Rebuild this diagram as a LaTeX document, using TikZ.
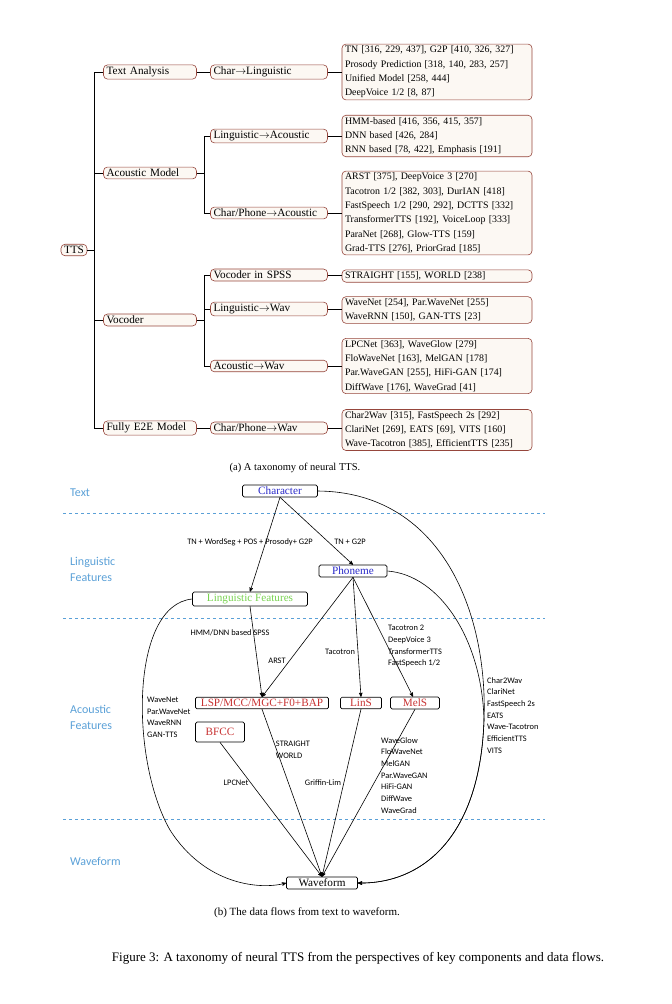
\documentclass[tikz,border=0pt]{standalone}
\usepackage{fontspec}
\setmainfont{Liberation Serif}
\newfontfamily\labfont{Carlito}
\usetikzlibrary{arrows}

\definecolor{leafborder}{RGB}{150,70,60}
\definecolor{leaffill}{RGB}{252,248,243}
\definecolor{layerblue}{RGB}{90,160,215}
\definecolor{charblue}{RGB}{40,40,200}
\definecolor{featgreen}{RGB}{120,210,80}
\definecolor{acred}{RGB}{200,50,50}

\tikzset{
  tree/.style={draw=leafborder,fill=leaffill,rounded corners=4pt,line width=0.6pt,
    inner xsep=3pt,inner ysep=2pt,align=left,font=\fontsize{11.2}{14}\selectfont},
  lvlone/.style={tree,text width=87pt},
  lvltwo/.style={tree,text width=111pt},
  leaf/.style={tree,text width=184pt,font=\fontsize{9.9}{14.3}\selectfont},
  flow/.style={draw,rounded corners=1.5pt,line width=0.7pt,inner sep=2pt,
    font=\fontsize{11.2}{14}\selectfont},
  lab/.style={font=\labfont\fontsize{8.4}{11.7}\selectfont,align=left,inner sep=0pt},
  layer/.style={font=\labfont\fontsize{12}{16}\selectfont,text=layerblue,align=left,anchor=west,inner sep=0pt},
  sep/.style={layerblue,dashed,line width=0.5pt},
  arr/.style={->,>=stealth',line width=0.6pt}
}

\begin{document}
\begin{tikzpicture}[x=1pt,y=-1pt]
  \useasboundingbox (0,0) rectangle (672,1004);

  % taxonomy
  \node[tree] (TTS) at (74,250) {TTS};
  \node[lvlone] (Text Analysis) at (150,72) {Text Analysis};
  \node[lvlone] (Acoustic Model) at (150,173) {Acoustic Model};
  \node[lvlone] (Vocoder) at (150,320) {Vocoder};
  \node[lvlone] (E2E) at (150,428) {Fully E2E Model};

  \node[lvltwo] (Char2Ling) at (269,72) {Char$\rightarrow$Linguistic};
  \node[lvltwo] (Ling2Ac) at (269,136) {Linguistic$\rightarrow$Acoustic};
  \node[lvltwo] (Char2Ac) at (269,213) {Char/Phone$\rightarrow$Acoustic};
  \node[lvltwo] (SPSS) at (269,275) {Vocoder in SPSS};
  \node[lvltwo] (Ling2Wav) at (269,309) {Linguistic$\rightarrow$Wav};
  \node[lvltwo] (Ac2Wav) at (269,366) {Acoustic$\rightarrow$Wav};
  \node[lvltwo] (Char2Wav) at (269,428) {Char/Phone$\rightarrow$Wav};

  \node[leaf] (L1) at (437,72) {TN [316, 229, 437], G2P [410, 326, 327]\\Prosody Prediction [318, 140, 283, 257]\\Unified Model [258, 444]\\DeepVoice 1/2 [8, 87]};
  \node[leaf] (L2) at (437,136) {HMM-based [416, 356, 415, 357]\\DNN based [426, 284]\\RNN based [78, 422], Emphasis [191]};
  \node[leaf] (L3) at (437,213) {ARST [375], DeepVoice 3 [270]\\Tacotron 1/2 [382, 303], DurIAN [418]\\FastSpeech 1/2 [290, 292], DCTTS [332]\\TransformerTTS [192], VoiceLoop [333]\\ParaNet [268], Glow-TTS [159]\\Grad-TTS [276], PriorGrad [185]};
  \node[leaf] (L4) at (437,276) {STRAIGHT [155], WORLD [238]};
  \node[leaf] (L5) at (437,310) {WaveNet [254], Par.WaveNet [255]\\WaveRNN [150], GAN-TTS [23]};
  \node[leaf] (L6) at (437,366) {LPCNet [363], WaveGlow [279]\\FloWaveNet [163], MelGAN [178]\\Par.WaveGAN [255], HiFi-GAN [174]\\DiffWave [176], WaveGrad [41]};
  \node[leaf] (L7) at (437,430) {Char2Wav [315], FastSpeech 2s [292]\\ClariNet [269], EATS [69], VITS [160]\\Wave-Tacotron [385], EfficientTTS [235]};

  \foreach \n in {Text Analysis,Acoustic Model,Vocoder,E2E}
    \draw[line width=0.5pt] (TTS.east) -- ++(7,0) |- (\n.west);
  \draw[line width=0.5pt] (Text Analysis) -- (Char2Ling);
  \draw[line width=0.5pt] (E2E) -- (Char2Wav);
  \foreach \n in {Ling2Ac,Char2Ac}
    \draw[line width=0.5pt] (Acoustic Model.east) -- ++(7,0) |- (\n.west);
  \foreach \n in {SPSS,Ling2Wav,Ac2Wav}
    \draw[line width=0.5pt] (Vocoder.east) -- ++(7,0) |- (\n.west);
  \foreach \a/\b in {Char2Ling/L1,Ling2Ac/L2,Char2Ac/L3,SPSS/L4,Ling2Wav/L5,Ac2Wav/L6,Char2Wav/L7}
    \draw[line width=0.5pt] (\a.east) -- (\a.east -| \b.west);

  \node[font=\fontsize{10.5}{12}\selectfont] (capa) at (295,468) {(a) A taxonomy of neural TTS.};

  % data flow
  \draw[sep] (63,513) -- (545,513);
  \draw[sep] (63,618) -- (545,618);
  \draw[sep] (63,819) -- (545,819);
  \node[layer] (lText) at (70,493) {Text};
  \node[layer] (lLing) at (70,569) {Linguistic\\Features};
  \node[layer] (lAc) at (70,717) {Acoustic\\Features};
  \node[layer] (lWav) at (70,861) {Waveform};

  \node[flow,text=charblue,minimum width=75pt] (Character) at (280,491) {Character};
  \node[flow,text=charblue,minimum width=68pt] (Phoneme) at (353,571) {Phoneme};
  \node[flow,text=featgreen,minimum width=115pt] (LingFeat) at (250,599) {Linguistic Features};
  \node[flow,text=acred,minimum width=133pt] (LSP) at (262,703) {LSP/MCC/MGC+F0+BAP};
  \node[flow,text=acred,minimum width=41pt] (LinS) at (361,703) {LinS};
  \node[flow,text=acred,minimum width=49pt] (MelS) at (415,703) {MelS};
  \node[flow,text=acred,minimum width=49pt,minimum height=20pt] (BFCC) at (220,732) {BFCC};
  \node[flow,minimum width=71pt] (Waveform) at (322,883) {Waveform};

  \draw[arr] (Character.south) -- (LingFeat.north);
  \draw[arr] (Character.south) -- (Phoneme.north);
  \draw[arr] (LingFeat.south) -- (LSP.north);
  \draw[arr] (Phoneme.south) -- (LSP.north);
  \draw[arr] (Phoneme.south) -- (LinS.north);
  \draw[arr] (Phoneme.south) -- ([xshift=-2pt]MelS.north);
  \draw[arr] (LSP.south) -- (Waveform.north);
  \draw[arr] (BFCC.south) -- (Waveform.north);
  \draw[arr] (LinS.south) -- (Waveform.north);
  \draw[arr] (MelS.south) -- (Waveform.north);
  \draw[arr] (Character.east) .. controls (440,492) and (488,610) .. (484,720)
    .. controls (480,840) and (420,884) .. (Waveform.east);
  \draw[arr] (Phoneme.east) .. controls (440,575) and (482,640) .. (484,720)
    .. controls (480,840) and (420,884) .. (Waveform.east);
  \draw[arr] (LingFeat.west) .. controls (130,605) and (130,760) .. (170,830)
    .. controls (205,885) and (260,890) .. (Waveform.west);

  \node[lab] (tEdge1) at (250,542) {TN + WordSeg + POS + Prosody+ G2P};
  \node[lab] (tEdge2) at (350,542) {TN + G2P};
  \node[lab] (tEdge3) at (230,633) {HMM/DNN based SPSS};
  \node[lab] (tEdge4) at (277,661) {ARST};
  \node[lab] (tEdge5) at (340,652) {Tacotron};
  \node[lab,anchor=north west] (tEdge6) at (388,625) {Tacotron 2\\DeepVoice 3\\TransformerTTS\\FastSpeech 1/2};
  \node[lab,anchor=north west] (tEdge7) at (147,697) {WaveNet\\Par.WaveNet\\WaveRNN\\GAN-TTS};
  \node[lab,anchor=north west] (tEdge8) at (487,677) {Char2Wav\\ClariNet\\FastSpeech 2s\\EATS\\Wave-Tacotron\\EfficientTTS\\VITS};
  \node[lab] (tEdge9) at (293,750) {STRAIGHT\\WORLD};
  \node[lab] (tEdge10) at (236,783) {LPCNet};
  \node[lab] (tEdge11) at (323,783) {Griffin-Lim};
  \node[lab,anchor=north west] (tEdge12) at (381,737) {WaveGlow\\FloWaveNet\\MelGAN\\Par.WaveGAN\\HiFi-GAN\\DiffWave\\WaveGrad};

  \node[font=\fontsize{11}{12}\selectfont] (capb) at (307,913) {(b) The data flows from text to waveform.};
  \node[font=\fontsize{13}{14}\selectfont] (cap3) at (358,958) {Figure 3: A taxonomy of neural TTS from the perspectives of key components and data flows.};
\end{tikzpicture}
\end{document}
